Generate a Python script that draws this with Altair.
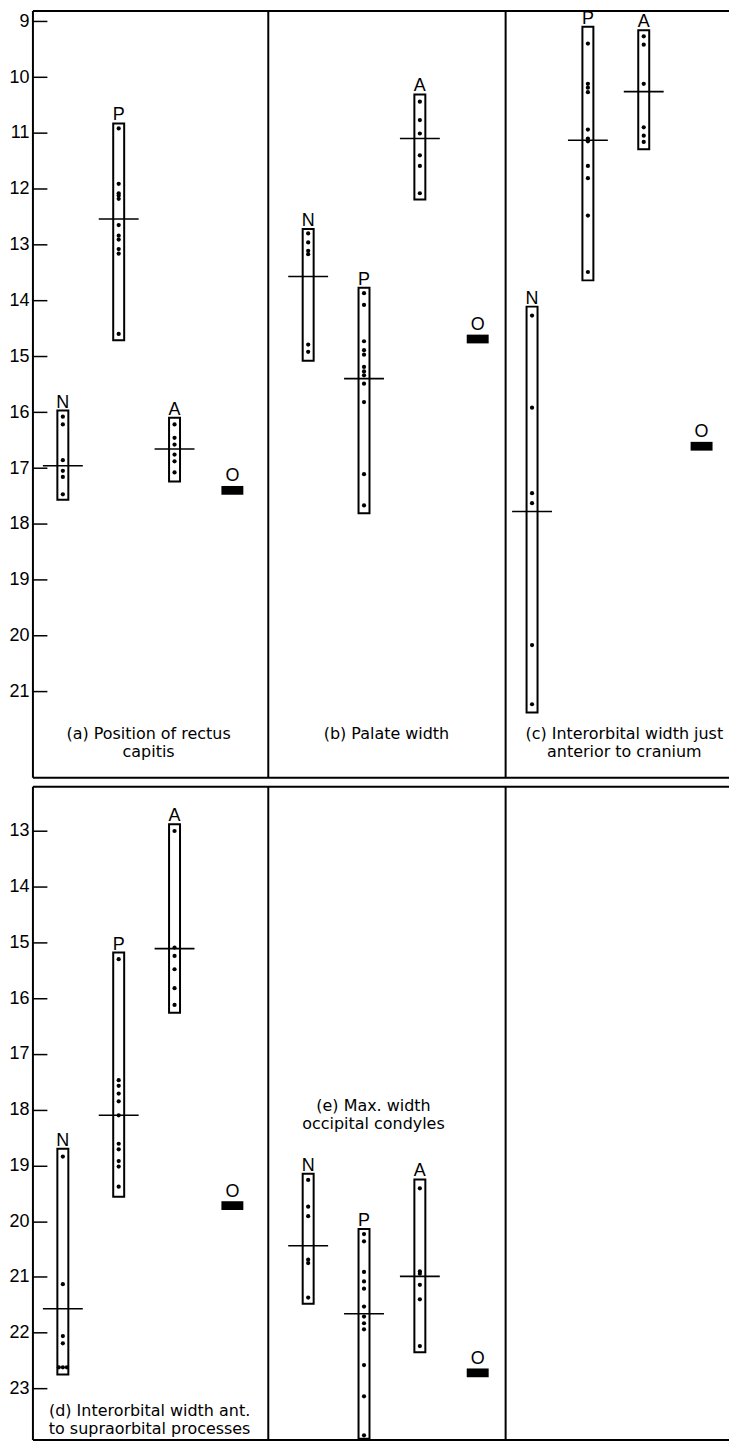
import altair as alt
import pandas as pd

# ---------------- data ----------------
GROUPS = ["N", "P", "A", "O"]
PANELS = ["a", "b", "c", "d", "e"]
CAPTIONS = [
    "(a) Position of rectus\ncapitis",
    "(b) Palate width",
    "(c) Interorbital width just\nanterior to cranium",
    "(d) Interorbital width ant.\nto supraorbital processes",
    "(e) Max. width\noccipital condyles",
]
TOP_TICKS = [9, 10, 11, 12, 13, 14, 15, 16, 17, 18, 19, 20, 21]
BOTTOM_TICKS = [13, 14, 15, 16, 17, 18, 19, 20, 21, 22, 23]

# ranges (low, high) for N, P, A
ranges_a = {"N": (15.97, 17.57), "P": (10.83, 14.71), "A": (16.10, 17.24)}
ranges_b = {"N": (12.72, 15.08), "P": (13.77, 17.81), "A": (10.31, 12.19)}
ranges_c = {"N": (14.11, 21.38), "P": (9.10, 13.64), "A": (9.16, 11.29)}
ranges_d = {"N": (18.70, 22.75), "P": (15.18, 19.56), "A": (12.88, 16.26)}
ranges_e = {"N": (19.15, 21.48), "P": (20.14, 23.90), "A": (19.25, 22.35)}

# means for N, P, A
means_a = {"N": 16.96, "P": 12.54, "A": 16.66}
means_b = {"N": 13.57, "P": 15.40, "A": 11.10}
means_c = {"N": 17.78, "P": 11.13, "A": 10.26}
means_d = {"N": 21.57, "P": 18.10, "A": 15.11}
means_e = {"N": 20.44, "P": 21.66, "A": 20.99}

# individual specimens
dots_a = {
    "N": [16.08, 16.22, 16.86, 17.05, 17.16, 17.47],
    "P": [10.92, 11.91, 12.08, 12.12, 12.18, 12.65, 12.84, 12.91, 13.08, 13.16, 14.60],
    "A": [16.22, 16.46, 16.58, 16.76, 16.88, 17.08],
}
dots_b = {
    "N": [12.80, 12.96, 13.11, 13.17, 14.79, 14.92],
    "P": [13.87, 14.08, 14.73, 14.89, 14.97, 15.19, 15.27, 15.34, 15.49, 15.82, 17.11, 17.67],
    "A": [10.44, 10.77, 11.01, 11.40, 11.59, 12.08],
}
dots_c = {
    "N": [14.27, 15.92, 17.45, 17.63, 20.17, 21.23],
    "P": [9.40, 10.12, 10.19, 10.27, 10.94, 11.10, 11.15, 11.59, 11.81, 12.48, 13.49],
    "A": [9.27, 9.42, 10.12, 10.90, 11.05, 11.16],
}
dots_d = {
    "N": [18.84, 21.13, 22.06, 22.19, 22.62, 22.62, 22.62],
    "P": [15.30, 17.47, 17.57, 17.71, 17.85, 18.10, 18.61, 18.71, 18.92, 19.02, 19.38],
    "A": [13.00, 15.09, 15.24, 15.48, 15.82, 16.12],
}
dots_e = {
    "N": [19.26, 19.74, 19.91, 20.69, 20.75, 21.37],
    "P": [20.23, 20.36, 20.91, 21.08, 21.21, 21.53, 21.71, 21.83, 21.94, 22.58, 23.14, 23.84],
    "A": [19.41, 20.90, 20.94, 21.14, 21.40, 22.24],
}

# single O value per panel
o_values = {"a": 17.40, "b": 14.69, "c": 16.61, "d": 19.72, "e": 22.72}

RANGES = {"a": ranges_a, "b": ranges_b, "c": ranges_c, "d": ranges_d, "e": ranges_e}
MEANS = {"a": means_a, "b": means_b, "c": means_c, "d": means_d, "e": means_e}
DOTS = {"a": dots_a, "b": dots_b, "c": dots_c, "d": dots_d, "e": dots_e}

# ---------------- layout ----------------
ROW_OF = {"a": 0, "b": 0, "c": 0, "d": 1, "e": 1}
PANEL_LEFT = {"a": 0, "b": 236, "c": 474, "d": 0, "e": 236}
PANEL_START = {"a": 30, "b": 40, "c": 26.5, "d": 30, "e": 40}
SLOT = {"N": 0, "P": 56, "A": 112, "O": 170}
CAPTION_X = [116, 354.5, 593, 117, 341.5]
CAPTION_Y = [21.62, 21.62, 21.62, 23.26, 17.79]
VLINES = [0, 236, 474]
PLOT_W = 698
TOP_H, BOT_H = 769, 655
TOP_DOMAIN = [8.816, 8.816 + TOP_H / 56.0]
BOT_TOP = 13 - (828.3 - (8 + TOP_H + 7)) / 55.9
BOT_DOMAIN = [BOT_TOP, BOT_TOP + BOT_H / 55.9]
BOX_HALF = 5.5
MEAN_HALF = 20
DUP_STEP = 4

FONT = "Liberation Sans"
CAP_FONT = "DejaVu Sans"


def cx(p, g):
    return PANEL_LEFT[p] + PANEL_START[p] + SLOT[g]


box_rows, mean_rows, dot_rows, o_rows, lab_rows, cap_rows = [], [], [], [], [], []
for i, p in enumerate(PANELS):
    r = ROW_OF[p]
    for g in ["N", "P", "A"]:
        c = cx(p, g)
        lo, hi = RANGES[p][g]
        box_rows.append(dict(row=r, x0=c - BOX_HALF, x1=c + BOX_HALF, lo=lo, hi=hi))
        mean_rows.append(dict(row=r, m0=c - MEAN_HALF, m1=c + MEAN_HALF, mean=MEANS[p][g]))
        vals = DOTS[p][g]
        for v in sorted(set(vals)):
            n = vals.count(v)
            for k in range(n):
                dot_rows.append(dict(row=r, x=c + (k - (n - 1) / 2) * DUP_STEP, v=v))
        lab_rows.append(dict(row=r, x=c, v=lo, t=g))
    co = cx(p, "O")
    o_rows.append(dict(row=r, x=co, v=o_values[p], t="O"))
    cap_rows.append(dict(row=r, x=CAPTION_X[i], v=CAPTION_Y[i], t=CAPTIONS[i].split("\n")))

df_box = pd.DataFrame(box_rows)
df_mean = pd.DataFrame(mean_rows)
df_dot = pd.DataFrame(dot_rows)
df_o = pd.DataFrame(o_rows)
df_lab = pd.DataFrame(lab_rows)
df_cap = pd.DataFrame(cap_rows)
df_vl = pd.DataFrame({"x": VLINES})

O_SHAPE = "M-1,-0.4H1V0.4H-1Z"


def row_chart(r, ydomain, ticks, height):
    xs = alt.Scale(domain=[0, PLOT_W], nice=False, zero=False)
    ys = alt.Scale(domain=ydomain, reverse=True, nice=False, zero=False)
    yaxis = alt.Axis(values=ticks, offset=-14, tickSize=15, domain=False, grid=False,
                     labelFontSize=18, labelFont=FONT, labelColor="black",
                     tickColor="black", tickWidth=1.5, labelPadding=3, title=None,
                     labelFlush=False, labelOverlap=False)

    def X(f):
        return alt.X(f, scale=xs, axis=None)

    def Y(f):
        return alt.Y(f, scale=ys, axis=yaxis)

    df_hl = pd.DataFrame({"y": ydomain})

    boxes = alt.Chart(df_box[df_box.row == r]).mark_rect(
        fill="white", stroke="black", strokeWidth=2
    ).encode(x=X("x0:Q"), x2="x1:Q", y=Y("lo:Q"), y2="hi:Q")

    means = alt.Chart(df_mean[df_mean.row == r]).mark_rule(
        color="black", strokeWidth=1.6
    ).encode(x=X("m0:Q"), x2="m1:Q", y=Y("mean:Q"))

    dots = alt.Chart(df_dot[df_dot.row == r]).mark_circle(
        color="black", size=18, opacity=1
    ).encode(x=X("x:Q"), y=Y("v:Q"))

    obar = alt.Chart(df_o[df_o.row == r]).mark_point(
        shape=O_SHAPE, size=484, filled=True, color="black", opacity=1, strokeWidth=0
    ).encode(x=X("x:Q"), y=Y("v:Q"))

    labels = alt.Chart(df_lab[df_lab.row == r]).mark_text(
        font=FONT, fontSize=18, color="black", baseline="alphabetic", dy=-3, clip=True
    ).encode(x=X("x:Q"), y=Y("v:Q"), text="t:N")

    olabels = alt.Chart(df_o[df_o.row == r]).mark_text(
        font=FONT, fontSize=18, color="black", baseline="alphabetic", dy=-9, clip=True
    ).encode(x=X("x:Q"), y=Y("v:Q"), text="t:N")

    caps = alt.Chart(df_cap[df_cap.row == r]).mark_text(
        font=CAP_FONT, fontSize=16, color="black", baseline="top", align="center",
        lineHeight=18
    ).encode(x=X("x:Q"), y=Y("v:Q"), text="t")

    vlines = alt.Chart(df_vl).mark_rule(color="black", strokeWidth=2).encode(x=X("x:Q"))
    hlines = alt.Chart(df_hl).mark_rule(color="black", strokeWidth=2).encode(y=Y("y:Q"))

    return alt.layer(boxes, means, dots, obar, labels, olabels, caps, vlines, hlines).properties(
        width=PLOT_W, height=height
    )


top = row_chart(0, TOP_DOMAIN, TOP_TICKS, TOP_H)
bottom = row_chart(1, BOT_DOMAIN, BOTTOM_TICKS, BOT_H)

chart = alt.vconcat(top, bottom, spacing=7).properties(
    padding={"left": 0, "top": 0, "right": 0, "bottom": 0}
).configure_view(strokeWidth=0)

chart.save("out.html", embed_options={"renderer": "svg", "actions": False})
